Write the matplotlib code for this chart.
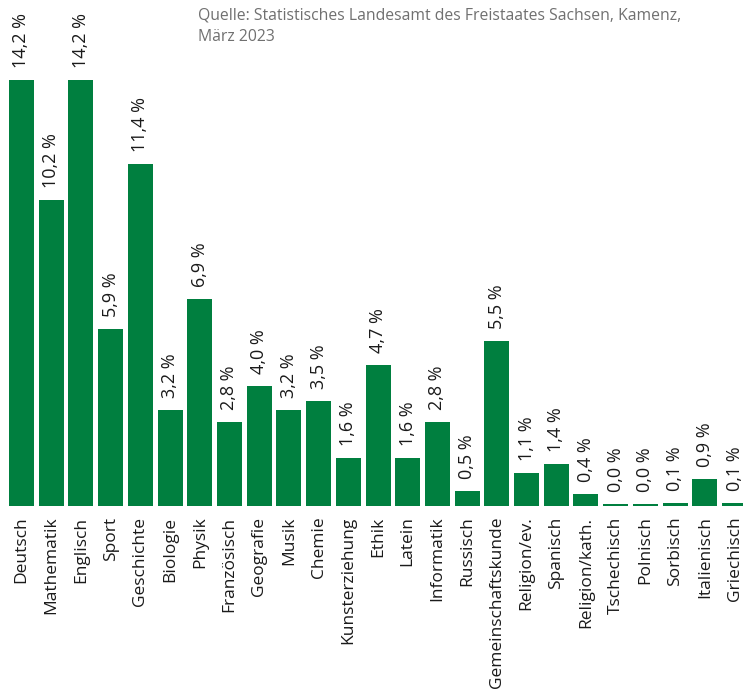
import numpy as np
import matplotlib
matplotlib.use("Agg")
from matplotlib import pyplot as plt

plt.rcParams['font.family'] = ['Open Sans', 'DejaVu Sans']

# Anteil der Unterrichtsstunden je Fach (in %)
subjects = ['Deutsch', 'Mathematik', 'Englisch', 'Sport', 'Geschichte', 'Biologie',
            'Physik', 'Französisch', 'Geografie', 'Musik', 'Chemie', 'Kunsterziehung',
            'Ethik', 'Latein', 'Informatik', 'Russisch', 'Gemeinschaftskunde',
            'Religion/ev.', 'Spanisch', 'Religion/kath.', 'Tschechisch', 'Polnisch',
            'Sorbisch', 'Italienisch', 'Griechisch']
shares = [14.2, 10.2, 14.2, 5.9, 11.4, 3.2, 6.9, 2.8, 4.0, 3.2, 3.5, 1.6,
          4.7, 1.6, 2.8, 0.5, 5.5, 1.1, 1.4, 0.4, 0.049, 0.049, 0.1, 0.9, 0.1]
source = 'Quelle: Statistisches Landesamt des Freistaates Sachsen, Kamenz,\nMärz 2023'

GREEN = '#007f3f'
W, H = 743, 693
DPI = 100
PITCH = 29.71   # px per bar slot
base_px = 505.5

fig = plt.figure(figsize=(W / DPI, H / DPI), dpi=DPI)
left_px = 21.5 - PITCH / 2
ax = fig.add_axes([left_px / W, (H - base_px) / H, 25 * PITCH / W, base_px / H])

x = np.arange(len(subjects))
ax.bar(x, shares, width=25 / PITCH, color=GREEN)

ax.set_xlim(-0.5, len(subjects) - 0.5)
ax.set_ylim(0, base_px / 30.0)

for xi, v in zip(x, shares):
    ax.annotate(f'{v:.1f} %'.replace('.', ','), (xi, v), xytext=(0, 8.5),
                textcoords='offset points', rotation=90, ha='center', va='bottom',
                fontsize=13, color='#1a1a1a')

ax.set_xticks(x)
ax.set_xticklabels(subjects, rotation=90, fontsize=12.5, color='#1a1a1a',
                   ha='center', va='top')
ax.tick_params(axis='x', length=0, pad=8)
ax.set_yticks([])
for s in ax.spines.values():
    s.set_visible(False)

fig.text(198 / W, 1 - 7 / H, source, ha='left', va='top', fontsize=11.3,
         color='#707070', linespacing=1.5)

fig.savefig('out.png', dpi=DPI)
